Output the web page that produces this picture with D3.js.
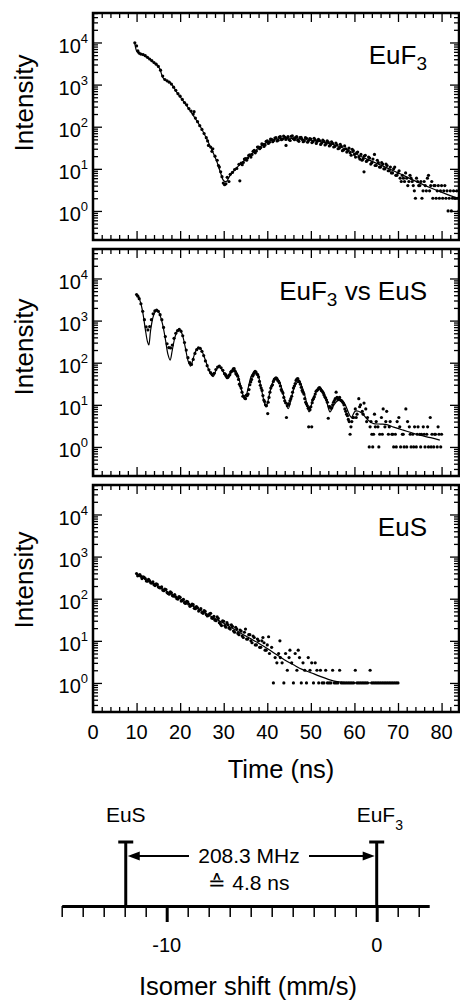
<!DOCTYPE html>
<meta charset="utf-8">
<script src="https://d3js.org/d3.v7.min.js"></script>
<style>
   body {
      margin: 0;
      padding: 0;
      background-color: white;
   }

   #chart {
      display: block;
      font-family: "Liberation Sans", Arial, Helvetica, sans-serif;
   }

   #chart text {
      white-space: pre;
   }
</style>

<body>
   <svg id="chart" width="460" height="1001"></svg>
   <script>

      // ---- data: [time (ns), intensity] ----
      var euf3Data = [[9.6,9800],[10.0,8300],[10.3,6300],[10.6,5600],[11.0,5300],[11.5,5150],[12.0,4850],[12.5,4450],[13.0,4050],[13.5,3700],[14.0,3350],[14.5,3050],[15.0,2700],[15.5,2200],[16.0,1600],[16.5,1320],[17.0,1230],[17.5,1140],[18.0,1030],[18.5,870],[19.0,730],[19.5,610],[20.0,530],[20.5,445],[21.0,375],[21.5,330],[22.0,270],[22.5,236],[23.0,200],[23.2,228],[23.5,160],[24.0,132],[24.5,106],[25.0,86],[25.5,69],[26.0,55],[26.3,46],[26.5,36],[27.0,33],[27.3,26],[27.5,30],[28.0,20],[28.5,16],[28.8,12],[29.0,11],[29.3,8.5],[29.6,6.5],[29.9,4.6],[30.2,4.2],[30.5,4.4],[30.8,6.3],[31.2,5.0],[31.5,7.4],[32.0,8.2],[32.5,9.6],[33.0,10.2],[33.5,12.8],[33.7,5.2],[34.0,13.6],[34.5,14.2],[35.0,17.5],[35.5,18.0],[36.0,21.5],[36.5,22.0],[37.0,27.5],[37.5,26.5],[38.0,33],[38.5,32],[39.0,38],[39.5,37],[40.0,46],[40.5,43],[41.0,50],[41.5,47],[42.0,55],[42.5,48],[43.0,58],[43.5,51],[44.0,57],[44.3,36],[44.5,54],[45.0,49],[45.5,59],[46.0,52],[46.5,56],[47.0,48],[47.5,55],[48.0,50],[48.5,46],[49.0,53],[49.5,47],[50.0,51],[50.5,44],[51.0,49],[51.5,45],[52.0,47],[52.5,41],[53.0,45],[53.5,39],[54.0,43],[54.5,37],[55.0,40],[55.5,34],[56.0,37],[56.5,31],[57.0,34],[57.5,28],[58.0,30],[58.5,27],[59.0,24],[59.5,29],[60.0,22],[60.5,24],[61.0,19],[61.5,22],[62.0,17],[62.2,8.5],[62.5,21],[63.0,16],[63.5,18],[64.0,14],[64.6,22],[65.0,12],[65.5,14],[66.0,11],[66.5,13],[67.0,10],[67.5,12],[68.0,9],[68.5,8],[69.0,10],[69.5,7],[70.0,8],[70.5,6],[71.0,7],[71.5,5],[72.0,6],[72.5,5],[73.0,6],[73.5,4],[74.0,2],[74.5,5],[75.0,4],[75.5,2],[76.0,5],[76.5,3],[77.0,7],[77.5,4],[78.0,2],[78.5,4],[79.0,3],[79.5,2],[80.0,4],[80.5,3],[81.0,2],[81.5,1],[82.0,3],[82.5,2],[83.0,2],[83.5,3],[84.0,1]];

      // the in-between channels of the EuF3 spectrum
      var euf3Between = [[34.25,12.5],[34.75,17],[35.25,16],[35.75,21],[36.25,19],[36.75,26],[37.25,24],[37.75,33],[38.25,30],[38.75,39],[39.25,34],[39.75,45],[40.25,40],[40.75,51],[41.25,44],[41.75,54],[42.25,46],[42.75,57],[43.25,49],[43.75,60],[44.25,50],[44.75,58],[45.25,47],[45.75,61],[46.25,49],[46.75,58],[47.25,45],[47.75,56],[48.25,44],[48.75,55],[49.25,43],[49.75,52],[50.25,42],[50.75,53],[51.25,40],[51.75,50],[52.25,38],[52.75,48],[53.25,37],[53.75,46],[54.25,35],[54.75,44],[55.25,33],[55.75,41],[56.25,30],[56.75,38],[57.25,27],[57.75,35],[58.25,25],[58.75,31],[59.25,21],[59.75,27],[60.25,19],[60.75,25],[61.25,17],[61.75,16],[62.25,20],[62.75,15],[63.25,19],[63.75,13],[64.25,17],[64.75,12],[65.25,16],[65.75,11],[66.25,14],[66.75,10],[67.25,13],[67.75,9],[68.25,11],[68.75,8],[69.25,11],[69.75,7],[70.25,9],[70.75,5],[71.25,6],[71.75,8],[72.25,4],[72.75,7],[73.25,5],[73.75,3],[74.25,6],[74.75,4],[75.25,5],[75.75,3],[76.25,4],[76.75,6],[77.25,3],[77.75,5],[78.25,4],[78.75,2],[79.25,4],[79.75,3],[80.25,2],[80.75,4],[81.25,3],[81.75,2],[82.25,1],[82.75,3],[83.25,2],[83.75,2]];

      var euf3Fit = [[9.6,9550],[10.0,6300],[10.5,5500],[11.5,5130],[12.5,4370],[13.5,3630],[14.5,3020],[15.3,2400],[16.0,1480],[16.7,1260],[17.7,1120],[18.5,870],[19.2,660],[20.5,436],[21.5,316],[23.0,186],[24.5,107],[26.0,54],[27.5,25],[28.5,14.1],[29.3,7.9],[30.0,5.2],[30.6,5.0],[31.4,6.8],[32.5,9.3],[33.7,12.6],[35.0,16.6],[36.0,20.4],[38.3,33],[40.6,46],[42.9,52.5],[45.0,53.7],[47.0,51.3],[50.5,46.8],[54.4,39.8],[56.5,33.9],[58.2,28.8],[60.0,23.4],[62.0,18.6],[65.8,12.6],[69.7,8.3],[73.5,5.4],[77.3,3.6],[81.1,2.5],[84.0,1.95]];

      var mixData = [[10.0,4170],[10.3,3800],[10.6,3310],[11.0,2510],[11.4,1660],[11.8,1050],[12.2,710],[12.6,600],[13.0,720],[13.4,1050],[13.8,1450],[14.2,1700],[14.6,1780],[15.0,1660],[15.4,1380],[15.8,1050],[16.2,690],[16.6,417],[17.0,282],[17.4,229],[17.8,224],[18.2,263],[18.6,380],[19.0,500],[19.4,575],[19.8,617],[20.2,562],[20.6,437],[21.0,302],[21.4,200],[21.8,132],[22.2,100],[22.6,91],[23.0,120],[23.4,166],[23.8,204],[24.2,224],[24.6,219],[25.0,186],[25.4,148],[25.8,110],[26.2,85],[26.6,68],[27.0,58],[27.4,52],[27.8,56],[28.2,69],[28.6,79],[29.0,83],[29.4,76],[29.8,66],[30.2,55],[30.6,48],[31.0,46],[31.4,52],[31.8,63],[32.2,71],[32.6,63],[33.0,52],[33.4,40],[33.8,28],[34.2,20],[34.6,16],[35.0,14],[35.4,16.6],[35.8,23],[36.2,35],[36.6,48],[37.0,58],[37.4,60],[37.8,52],[38.2,36],[38.6,25],[39.0,16.6],[39.4,12],[39.8,9.5],[40.1,6.2],[40.2,11.5],[40.6,20],[41.0,28],[41.4,36],[41.8,42],[42.2,42],[42.6,36],[43.0,28],[43.4,21],[43.8,15],[44.2,11.2],[44.4,5.0],[44.6,9.5],[45.0,10.5],[45.4,14],[45.8,20],[46.2,28],[46.6,38],[47.0,42],[47.4,35],[47.8,26],[48.2,20],[48.6,14],[49.0,10.5],[49.4,8.3],[49.5,3],[49.8,7.6],[50.2,3],[50.3,11.2],[50.6,14],[51.0,18],[51.4,22],[51.8,25],[52.2,24],[52.6,21],[53.0,17.4],[53.4,14.5],[53.8,11.5],[54.0,4.8],[54.2,9.1],[54.6,8.3],[55.0,10],[55.4,12.6],[55.8,20],[56.2,13.2],[56.6,15],[57.0,12.6],[57.4,11.2],[57.8,8],[58.2,6],[58.6,4.5],[59.0,2],[59.4,4],[59.8,5],[60.2,8],[60.6,6],[61.0,14],[61.4,10],[61.8,7],[62.2,11],[62.6,8],[63.0,5],[63.4,1],[63.8,4],[64.2,1],[64.4,2],[64.6,6],[65.0,4],[65.4,3],[65.8,2],[66.2,5],[66.6,8],[67.0,3],[67.4,7],[67.8,2],[68.2,4],[68.6,2],[69.0,1],[69.4,2],[69.8,4],[70.2,5],[70.6,1],[71.0,2],[71.4,1],[71.8,8],[72.2,4],[72.6,3],[73.0,1],[73.4,2],[73.8,3],[74.2,1],[74.6,3],[75.0,2],[75.4,2],[75.8,3],[76.2,1],[76.6,2],[77.0,1],[77.4,5],[77.8,2],[78.2,1],[78.6,2],[79.0,1],[79.4,2],[79.8,1]];

      var mixBetween = [[30.4,53],[30.8,44],[31.2,50],[31.6,60],[32.0,64],[32.4,72],[32.8,55],[33.2,48],[33.6,31],[34.0,25],[34.4,16],[34.8,14.5],[35.2,17],[35.6,18],[36.0,30],[36.4,40],[36.8,52],[37.2,62],[37.6,54],[38.0,46],[38.4,29],[38.8,22],[39.2,13],[39.6,10],[40.4,15],[40.8,25],[41.2,30],[41.6,40],[42.0,44],[42.4,38],[42.8,33],[43.2,23],[43.6,19],[44.0,12.5],[44.8,10.5],[45.2,12.5],[45.6,16],[46.0,25],[46.4,32],[46.8,41],[47.2,37],[47.6,31],[48.0,22],[48.4,18],[48.8,11.5],[49.2,9.5],[49.6,8.5],[50.0,9],[50.4,13],[50.8,15.5],[51.2,21],[51.6,23],[52.0,25.5],[52.4,22],[52.8,19.5],[53.2,15.5],[53.6,13],[54.4,9],[54.8,8.5],[55.2,11.5],[55.6,14],[56.0,15],[56.4,14.5],[56.8,13],[57.2,12],[57.6,10],[58.0,7],[58.4,5.5],[58.8,4],[59.2,3],[59.6,5],[60.4,5],[61.2,9],[62.0,6],[62.8,4],[63.6,3],[64.0,2],[64.8,3],[65.6,1],[66.4,2],[67.2,4],[68.0,3],[68.8,2],[69.6,1],[70.4,3],[71.2,2],[72.0,1],[72.8,2],[73.6,1],[74.4,2],[75.2,1],[76.0,2],[76.8,3],[77.6,1],[78.4,2],[79.2,3],[80.0,2]];

      var mixFit = [[10.0,4070],[10.5,3550],[11.0,2510],[11.5,1410],[12.0,630],[12.5,316],[12.8,263],[13.2,562],[13.7,1120],[14.2,1580],[14.7,1740],[15.2,1510],[15.7,1050],[16.2,630],[16.7,316],[17.2,158],[17.7,115],[18.2,200],[18.8,400],[19.3,550],[19.8,600],[20.3,525],[20.8,355],[21.3,200],[21.8,112],[22.4,83],[23.0,126],[23.5,182],[24.0,214],[24.5,224],[25.0,190],[25.5,141],[26.0,100],[26.6,66],[27.2,50],[27.6,47],[28.4,71],[29.1,79],[29.8,63],[30.5,46],[31.0,43],[31.6,56],[32.2,68],[32.8,63],[33.5,42],[34.2,20],[34.9,14],[35.6,25],[36.4,50],[37.2,62],[37.9,50],[38.7,22],[39.7,8.9],[40.5,17.8],[41.3,35],[42.1,43],[42.9,33],[43.8,15.8],[44.8,8.1],[45.6,15.8],[46.4,29],[47.1,35],[47.9,28],[48.8,14.1],[49.6,6.8],[50.5,14.1],[51.3,21],[52.1,24.5],[52.9,20],[53.7,11.2],[54.4,6.8],[55.3,10],[56.2,12.6],[57.0,13.2],[57.9,10],[58.7,6.3],[59.3,5.0],[60.2,7.1],[61.5,6.6],[63.0,4.5],[64.3,3.6],[66.0,3.5],[67.4,3.4],[69.0,2.95],[71.2,2.5],[73.0,2.2],[75.0,1.9],[77.5,1.66],[79.6,1.45]];

      var eusData = [[10.0,395],[10.5,360],[11.0,340],[11.5,330],[12.0,300],[12.5,260],[13.0,265],[13.5,235],[14.0,215],[14.5,225],[15.0,190],[15.5,180],[16.0,160],[16.5,170],[17.0,140],[17.5,128],[18.0,138],[18.5,115],[19.0,110],[19.5,98],[20.0,108],[20.5,90],[21.0,80],[21.5,86],[22.0,74],[22.5,68],[23.0,72],[23.5,58],[24.0,61],[24.5,54],[25.0,47],[25.5,52],[26.0,42],[26.5,40],[27.0,45],[27.5,34],[28.0,31],[28.5,37],[29.0,27],[29.5,23],[30.0,29],[30.5,21],[31.0,24],[31.5,19],[32.0,22],[32.5,16],[33.0,19],[33.5,14],[34.0,17],[34.5,12],[35.0,19],[35.5,11],[36.0,14],[36.5,9],[37.0,12],[37.5,8],[38.0,10],[38.5,7],[39.0,12],[39.5,6],[40.0,8],[40.3,12.5],[40.5,5],[41.0,7],[41.4,1],[41.8,4],[42.2,3],[42.6,5],[42.9,10],[43.0,4],[43.4,3],[43.8,1],[44.2,5],[44.6,2],[45.0,4],[45.2,6],[45.6,3],[46.0,1],[46.4,5],[46.8,2],[47.1,6],[47.4,4],[47.8,1],[48.2,3],[48.6,2],[49.0,1],[49.4,4],[49.8,2],[50.2,3],[50.6,1],[51.0,3],[51.4,2],[51.8,1],[52.2,2],[52.6,1],[53.0,1],[53.4,2],[53.8,1],[54.2,1],[54.6,1],[55.0,2],[55.4,1],[55.8,1],[56.2,1],[56.6,2],[57.0,1],[57.4,1],[57.8,1],[58.2,1],[58.6,1],[59.0,1],[59.4,1],[59.8,1],[60.2,2],[60.6,1],[61.0,1],[61.4,1],[61.8,1],[62.2,1],[62.6,1],[63.0,1],[63.6,2],[64.0,1],[64.4,1],[64.8,1],[65.2,1],[65.6,1],[66.0,1],[66.4,1],[66.8,1],[67.2,1],[67.6,1],[68.0,1],[68.4,1],[68.8,1],[69.2,1],[69.6,1],[70.0,1]];

      var eusBetween = [[10.25,350],[10.75,375],[11.25,300],[11.75,320],[12.25,265],[12.75,290],[13.25,238],[13.75,250],[14.25,205],[14.75,220],[15.25,182],[15.75,190],[16.25,155],[16.75,165],[17.25,133],[17.75,145],[18.25,118],[18.75,126],[19.25,100],[19.75,112],[20.25,88],[20.75,97],[21.25,77],[21.75,84],[22.25,66],[22.75,74],[23.25,59],[23.75,65],[24.25,51],[24.75,58],[25.25,45],[25.75,50],[26.25,39],[26.75,44],[27.25,35],[27.75,38],[28.25,30],[28.75,34],[29.25,25],[29.75,30],[30.25,23],[30.75,27],[31.25,20],[31.75,24],[32.25,17],[32.75,21],[33.25,15],[33.75,18],[34.25,13],[34.75,16],[35.25,11],[35.75,14],[36.25,10],[36.75,13],[37.25,8],[37.75,11],[38.25,7],[38.75,10],[39.25,9],[39.75,6]];

      var eusFit = [[10,380],[12,290],[14,225],[16,170],[18,130],[20,100],[22,76],[24,58],[26,44],[28,34],[30,26],[32,20],[34,15],[36,11.5],[38,8.8],[40,6.6],[42,4.8],[44,3.5],[46,2.7],[48,2.1],[50,1.75],[52,1.45],[54,1.22],[56,1.07],[58,1.01],[60,1.0],[65,1.0],[70,1.0]];

      // panel names: [main, subscript, rest]
      var panelLabels = [["EuF", "3", ""], ["EuF", "3", " vs EuS"], ["EuS", "", ""]];
      var timeTicks = [0, 10, 20, 30, 40, 50, 60, 70, 80];
      var decades = [0, 1, 2, 3, 4];

      // isomer shift scheme
      var shiftTicks = [-15, -14, -13, -12, -11, -10, -9, -8, -7, -6, -5, -4, -3, -2, -1, 0, 1, 2];
      var shiftLabels = [-10, 0];
      var shiftMarkers = [{ name: "EuS", sub: "", shift: -11.95 }, { name: "EuF", sub: "3", shift: 0 }];
      var splitText = ["208.3 MHz", "\u2259 4.8 ns"];

      var svg = d3.select("#chart");

      var panelTops = [13, 249, 485],
         panelH = 227,
         intensityMid = [103, 347, 580],
         left = 93,
         right = 459;

      var x = d3.scaleLinear().domain([0, 84]).range([left, right]);
      var minorTime = d3.range(0, 85, 2).filter(function (v) { return v % 10 !== 0 });

      function tickAxis(g, axis, tr, vals, size) {
         g.append("g")
            .attr("transform", tr)
            .call(axis.tickValues(vals).tickSize(size).tickSizeOuter(0).tickFormat(""))
            .call(function (s) { s.select(".domain").remove() })
            .selectAll(".tick line")
            .attr("stroke", "#000")
            .attr("stroke-width", 1.3);
      }

      function drawPanel(i, dots, fit) {
         var top = panelTops[i], bottom = top + panelH;
         var y = d3.scaleLog()
            .domain([Math.pow(10, -0.69), Math.pow(10, 4.70)])
            .range([bottom, top]);

         var g = svg.append("g");

         var majorY = decades.map(function (e) { return Math.pow(10, e) });
         var minorY = y.ticks().filter(function (v) {
            var l = Math.log10(v);
            return Math.abs(l - Math.round(l)) > 1e-6;
         });

         // ticks on all four sides, pointing in
         tickAxis(g, d3.axisBottom(x), "translate(0," + bottom + ")", timeTicks, -9);
         tickAxis(g, d3.axisBottom(x), "translate(0," + bottom + ")", minorTime, -5);
         tickAxis(g, d3.axisTop(x), "translate(0," + top + ")", timeTicks, -9);
         tickAxis(g, d3.axisTop(x), "translate(0," + top + ")", minorTime, -5);
         tickAxis(g, d3.axisLeft(y), "translate(" + left + ",0)", majorY, -9);
         tickAxis(g, d3.axisLeft(y), "translate(" + left + ",0)", minorY, -5);
         tickAxis(g, d3.axisRight(y), "translate(" + right + ",0)", majorY, -9);
         tickAxis(g, d3.axisRight(y), "translate(" + right + ",0)", minorY, -5);

         // frame
         g.append("rect")
            .attr("x", left).attr("y", top)
            .attr("width", right - left).attr("height", panelH)
            .attr("fill", "none")
            .attr("stroke", "#000")
            .attr("stroke-width", 2.5);

         // y labels 10^n
         decades.forEach(function (e) {
            var t = g.append("text")
               .attr("x", 88)
               .attr("y", y(Math.pow(10, e)) + 10.5)
               .attr("text-anchor", "end")
               .attr("font-size", 20);
            t.append("tspan").text("10");
            t.append("tspan").attr("font-size", 13).attr("dy", -10).text(e);
         });

         g.append("text")
            .attr("transform", "translate(33," + intensityMid[i] + ") rotate(-90)")
            .attr("text-anchor", "middle")
            .attr("font-size", 26)
            .text("Intensity");

         // fit curve
         g.append("path")
            .datum(fit)
            .attr("fill", "none")
            .attr("stroke", "#000")
            .attr("stroke-width", 1.2)
            .attr("d", d3.line()
               .x(function (d) { return x(d[0]) })
               .y(function (d) { return y(d[1]) })
               .curve(d3.curveCatmullRom));

         // data points
         g.selectAll("circle")
            .data(dots)
            .enter()
            .append("circle")
            .attr("cx", function (d) { return x(d[0]) })
            .attr("cy", function (d) { return y(d[1]) })
            .attr("r", 1.6)
            .attr("fill", "#000");

         // sample name
         var lab = panelLabels[i];
         var txt = g.append("text")
            .attr("x", 427)
            .attr("y", top + 51)
            .attr("text-anchor", "end")
            .attr("font-size", 26);
         txt.append("tspan").text(lab[0]);
         if (lab[1]) txt.append("tspan").attr("font-size", 19).attr("dy", 6).text(lab[1]);
         if (lab[2]) txt.append("tspan").attr("dy", -6).text(lab[2]);

         return bottom;
      }

      drawPanel(0, euf3Data.concat(euf3Between), euf3Fit);
      drawPanel(1, mixData.concat(mixBetween), mixFit);
      var lastBottom = drawPanel(2, eusData.concat(eusBetween), eusFit);

      // time axis labels under the last panel
      svg.append("g")
         .selectAll("text")
         .data(timeTicks)
         .enter()
         .append("text")
         .attr("x", function (d) { return x(d) })
         .attr("y", lastBottom + 27)
         .attr("text-anchor", "middle")
         .attr("font-size", 20)
         .text(function (d) { return d });

      svg.append("text")
         .attr("x", 281)
         .attr("y", 778)
         .attr("text-anchor", "middle")
         .attr("font-size", 25.5)
         .text("Time (ns)");

      // ---- isomer shift scheme ----
      var xs = d3.scaleLinear().domain([-15, 2.5]).range([61.7, 429.2]);
      var axisY = 906;
      var sg = svg.append("g");

      sg.append("g")
         .attr("transform", "translate(0," + axisY + ")")
         .call(d3.axisBottom(xs).tickValues(shiftTicks).tickSize(11).tickSizeOuter(0).tickFormat(""))
         .call(function (s) {
            s.select(".domain").attr("stroke-width", 3);
            s.selectAll(".tick line").attr("stroke-width", 1.5);
         });

      sg.append("g")
         .attr("transform", "translate(0," + axisY + ")")
         .call(d3.axisBottom(xs).tickValues(shiftLabels).tickSize(16).tickSizeOuter(0).tickFormat(""))
         .call(function (s) {
            s.select(".domain").remove();
            s.selectAll(".tick line").attr("stroke-width", 3);
         });

      sg.selectAll(".shiftLabel")
         .data(shiftLabels)
         .enter()
         .append("text")
         .attr("class", "shiftLabel")
         .attr("x", function (d) { return xs(d) })
         .attr("y", 951.5)
         .attr("text-anchor", "middle")
         .attr("font-size", 20)
         .text(function (d) { return d < 0 ? "-" + Math.abs(d) : d });

      sg.append("text")
         .attr("x", 248)
         .attr("y", 995)
         .attr("text-anchor", "middle")
         .attr("font-size", 25.5)
         .text("Isomer shift (mm/s)");

      var capY = 842;
      shiftMarkers.forEach(function (m) {
         var mx = xs(m.shift);
         sg.append("line")
            .attr("x1", mx).attr("x2", mx)
            .attr("y1", capY).attr("y2", axisY)
            .attr("stroke", "#000").attr("stroke-width", 3);
         sg.append("line")
            .attr("x1", mx - 7.5).attr("x2", mx + 7.5)
            .attr("y1", capY).attr("y2", capY)
            .attr("stroke", "#000").attr("stroke-width", 3);
         var t = sg.append("text")
            .attr("x", m.sub ? mx - 20 : mx)
            .attr("y", 822)
            .attr("text-anchor", m.sub ? "start" : "middle")
            .attr("font-size", 21);
         t.append("tspan").text(m.name);
         if (m.sub) t.append("tspan").attr("font-size", 14).attr("dy", 8).text(m.sub);
      });

      // double arrow between the two lines
      var ax0 = xs(shiftMarkers[0].shift) + 2, ax1 = xs(shiftMarkers[1].shift) - 2, arrowY = 856;
      var textMid = 249;
      sg.append("line")
         .attr("x1", ax0 + 10).attr("x2", 189)
         .attr("y1", arrowY).attr("y2", arrowY)
         .attr("stroke", "#000").attr("stroke-width", 2);
      sg.append("line")
         .attr("x1", 309).attr("x2", ax1 - 10)
         .attr("y1", arrowY).attr("y2", arrowY)
         .attr("stroke", "#000").attr("stroke-width", 2);
      sg.append("path")
         .attr("d", "M" + ax0 + "," + arrowY + "L" + (ax0 + 12) + "," + (arrowY - 4.5) + "L" + (ax0 + 12) + "," + (arrowY + 4.5) + "Z")
         .attr("fill", "#000");
      sg.append("path")
         .attr("d", "M" + ax1 + "," + arrowY + "L" + (ax1 - 12) + "," + (arrowY - 4.5) + "L" + (ax1 - 12) + "," + (arrowY + 4.5) + "Z")
         .attr("fill", "#000");

      sg.selectAll(".split")
         .data(splitText)
         .enter()
         .append("text")
         .attr("class", "split")
         .attr("x", textMid)
         .attr("y", function (d, i) { return 863 + i * 27 })
         .attr("text-anchor", "middle")
         .attr("font-size", 21)
         .text(function (d) { return d });

   </script>
</body>
